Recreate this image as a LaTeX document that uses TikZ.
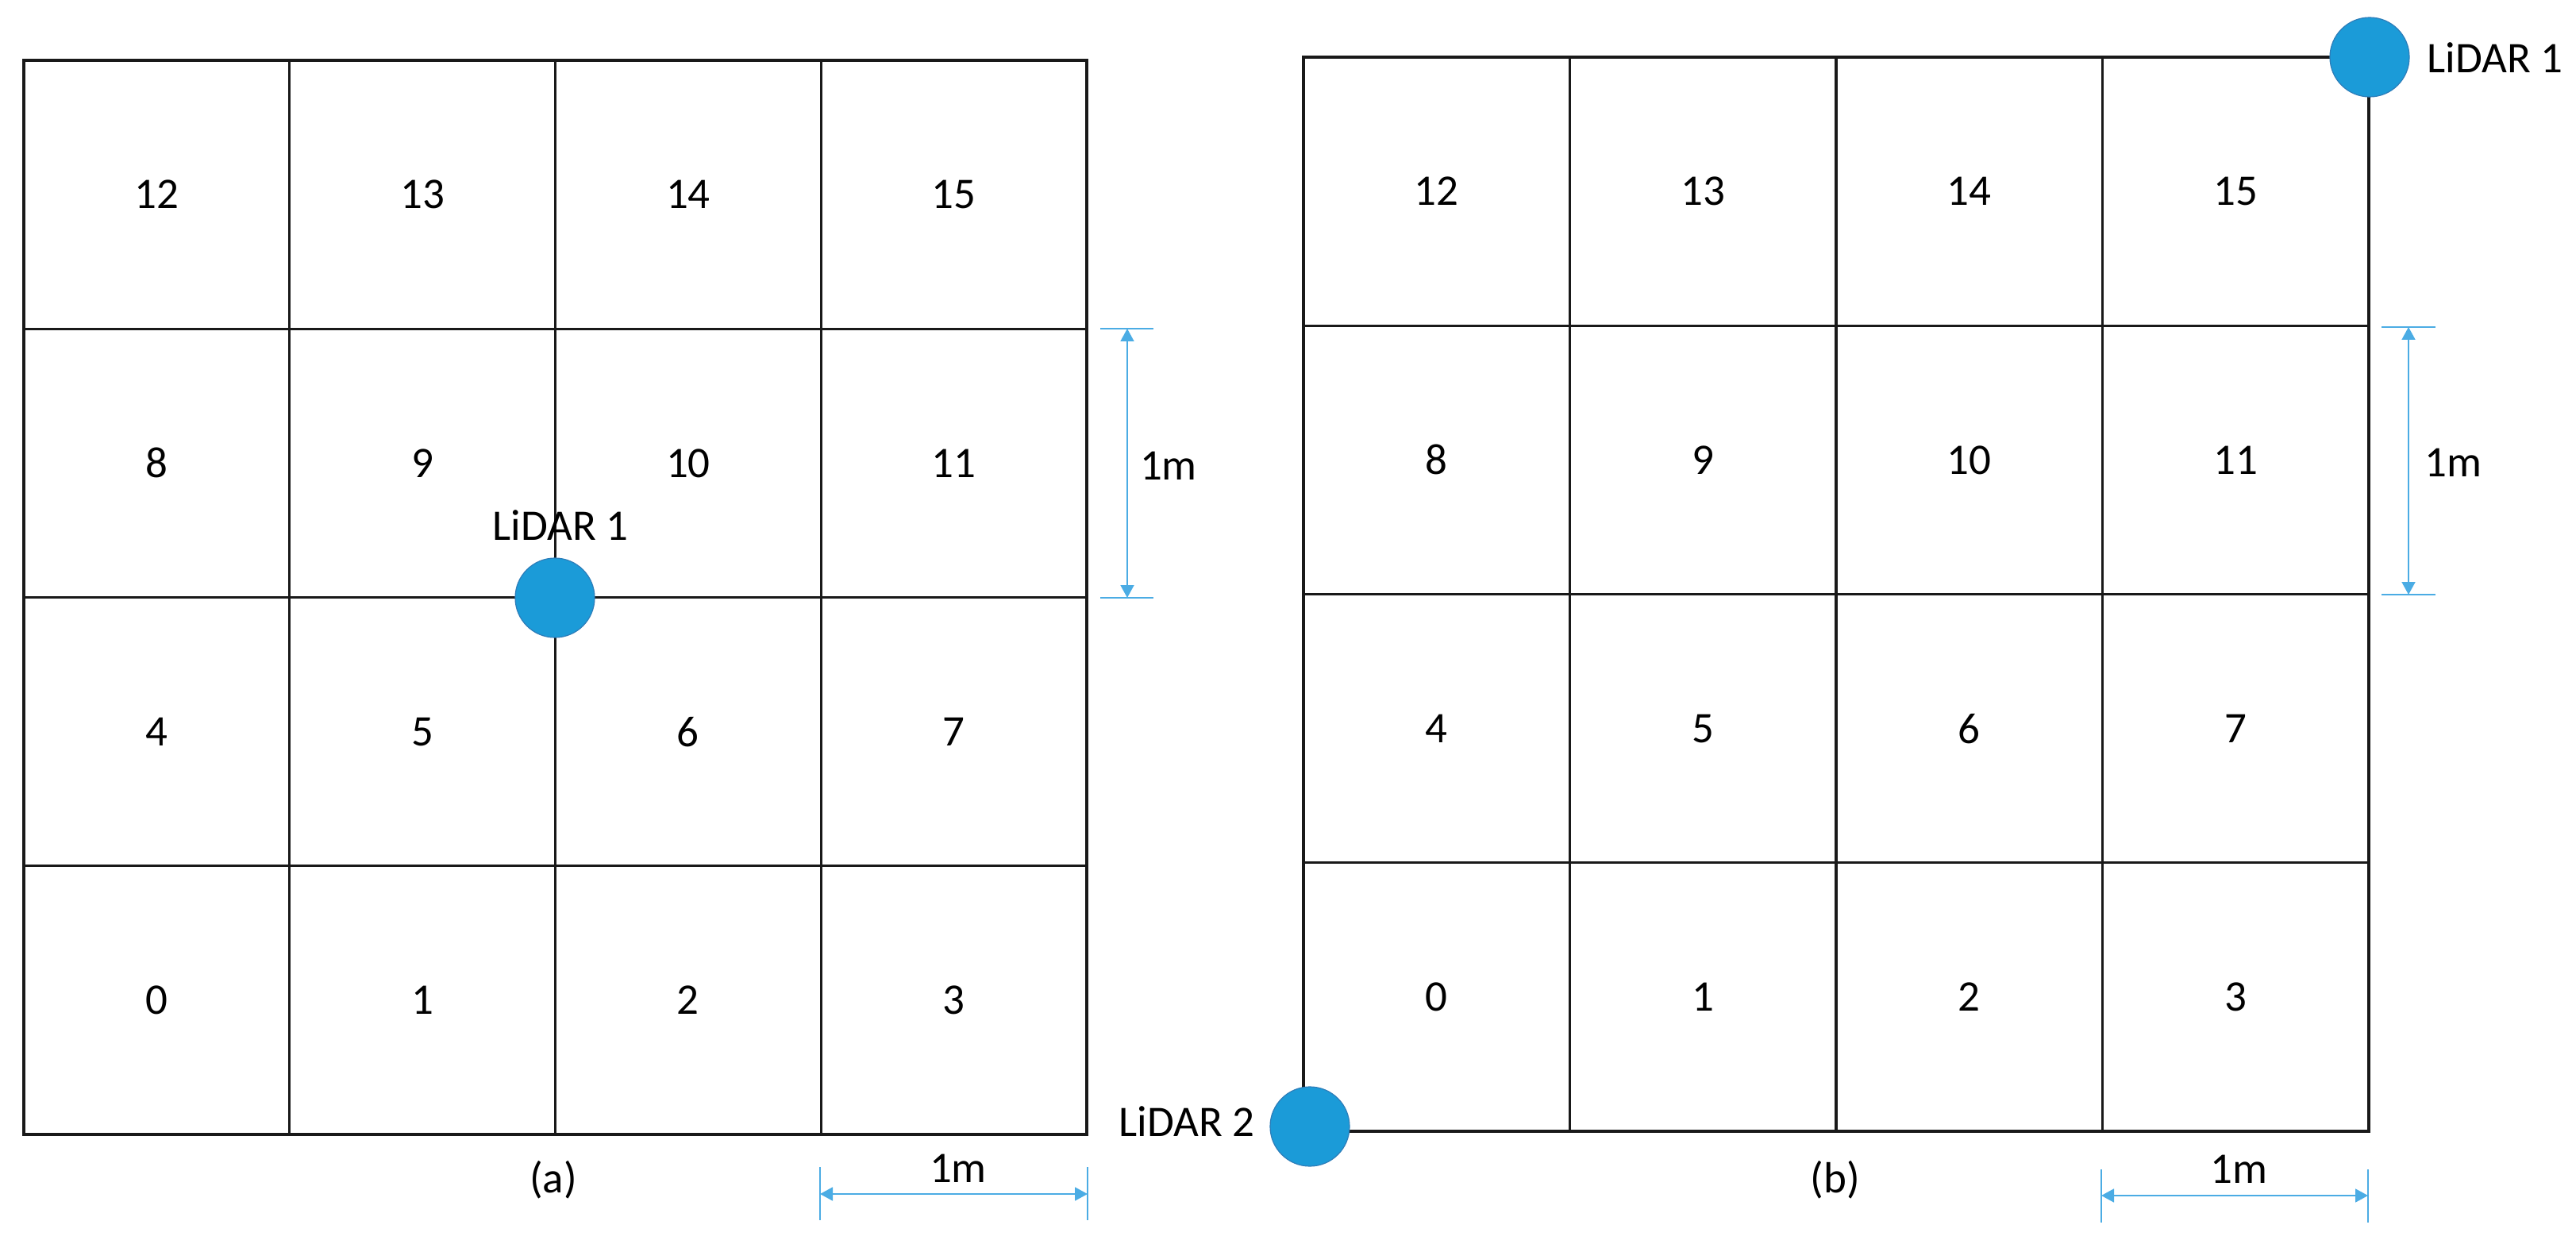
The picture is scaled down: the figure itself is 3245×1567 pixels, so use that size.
\documentclass[tikz,border=0pt]{standalone}
\usepackage{fontspec}
\setmainfont{Carlito}
\usetikzlibrary{arrows.meta}
\definecolor{lidarblue}{RGB}{27,155,216}
\definecolor{lidaredge}{RGB}{45,125,185}
\definecolor{dimblue}{RGB}{75,172,228}
\begin{document}
\begin{tikzpicture}[x=0.5pt,y=-0.5pt,
  gridline/.style={line width=1.6pt, black!90},
  txt/.style={inner sep=0pt, font=\fontsize{27.5}{32}\selectfont},
  lidar/.style={circle, fill=lidarblue, draw=lidaredge, line width=0.6pt, minimum size=50pt, inner sep=0pt},
  dimline/.style={dimblue, line width=0.9pt},
  dimarrow/.style={dimblue, line width=0.9pt, {Triangle[length=8pt,width=8.5pt]}-{Triangle[length=8pt,width=8.5pt]}}]
\useasboundingbox (0,0) rectangle (3245,1567);
% ---------- left grid (a)
\draw[gridline] (30,76) rectangle (1369,1429);
\foreach \i in {1,2,3}{
  \draw[gridline] (30+334.75*\i,76) -- (30+334.75*\i,1429);
  \draw[gridline] (30,76+338.25*\i) -- (1369,76+338.25*\i);
}
\foreach \r in {0,...,3}{
  \foreach \c in {0,...,3}{
    \pgfmathtruncatemacro{\n}{4*\r+\c}
    \node[txt] (a\n) at (30+334.75*\c+167.4, 1429-338.25*\r-169.1) {\n};
  }
}
% ---------- right grid (b)
\draw[gridline] (1642,72) rectangle (2984,1425);
\foreach \i in {1,2,3}{
  \draw[gridline] (1642+335.5*\i,72) -- (1642+335.5*\i,1425);
  \draw[gridline] (1642,72+338.25*\i) -- (2984,72+338.25*\i);
}
\foreach \r in {0,...,3}{
  \foreach \c in {0,...,3}{
    \pgfmathtruncatemacro{\n}{4*\r+\c}
    \node[txt] (b\n) at (1642+335.5*\c+167.75, 1425-338.25*\r-169.1) {\n};
  }
}
% ---------- LiDARs
\node[lidar] (la1) at (699,753) {};
\node[txt] (la1l) at (706,662) {LiDAR 1};
\node[lidar] (lb1) at (2985,72) {};
\node[txt, anchor=west] (lb1l) at (3057,73) {LiDAR 1};
\node[lidar] (lb2) at (1650,1419) {};
\node[txt, anchor=east] (lb2l) at (1581,1413) {LiDAR 2};
% ---------- captions
\node[txt] (capa) at (697,1486) {(a)};
\node[txt] (capb) at (2312,1486) {(b)};
% ---------- dimensions left
\coordinate (av1) at (1420,414); \coordinate (av2) at (1420,753);
\draw[dimline] (1386,414) -- (1453,414);
\draw[dimline] (1386,753) -- (1453,753);
\draw[dimarrow] (av1) -- (av2);
\node[txt] (am1) at (1472,587) {1m};
\coordinate (ah1) at (1033,1504); \coordinate (ah2) at (1370,1504);
\draw[dimline] (1033,1470) -- (1033,1537);
\draw[dimline] (1370,1470) -- (1370,1537);
\draw[dimarrow] (ah1) -- (ah2);
\node[txt] (am2) at (1207,1472) {1m};
% ---------- dimensions right
\coordinate (bv1) at (3034,412); \coordinate (bv2) at (3034,749);
\draw[dimline] (3000,412) -- (3068,412);
\draw[dimline] (3000,749) -- (3068,749);
\draw[dimarrow] (bv1) -- (bv2);
\node[txt] (bm1) at (3090,583) {1m};
\coordinate (bh1) at (2647,1506); \coordinate (bh2) at (2983,1506);
\draw[dimline] (2647,1473) -- (2647,1540);
\draw[dimline] (2983,1473) -- (2983,1540);
\draw[dimarrow] (bh1) -- (bh2);
\node[txt] (bm2) at (2820,1473) {1m};
\end{tikzpicture}
\end{document}
